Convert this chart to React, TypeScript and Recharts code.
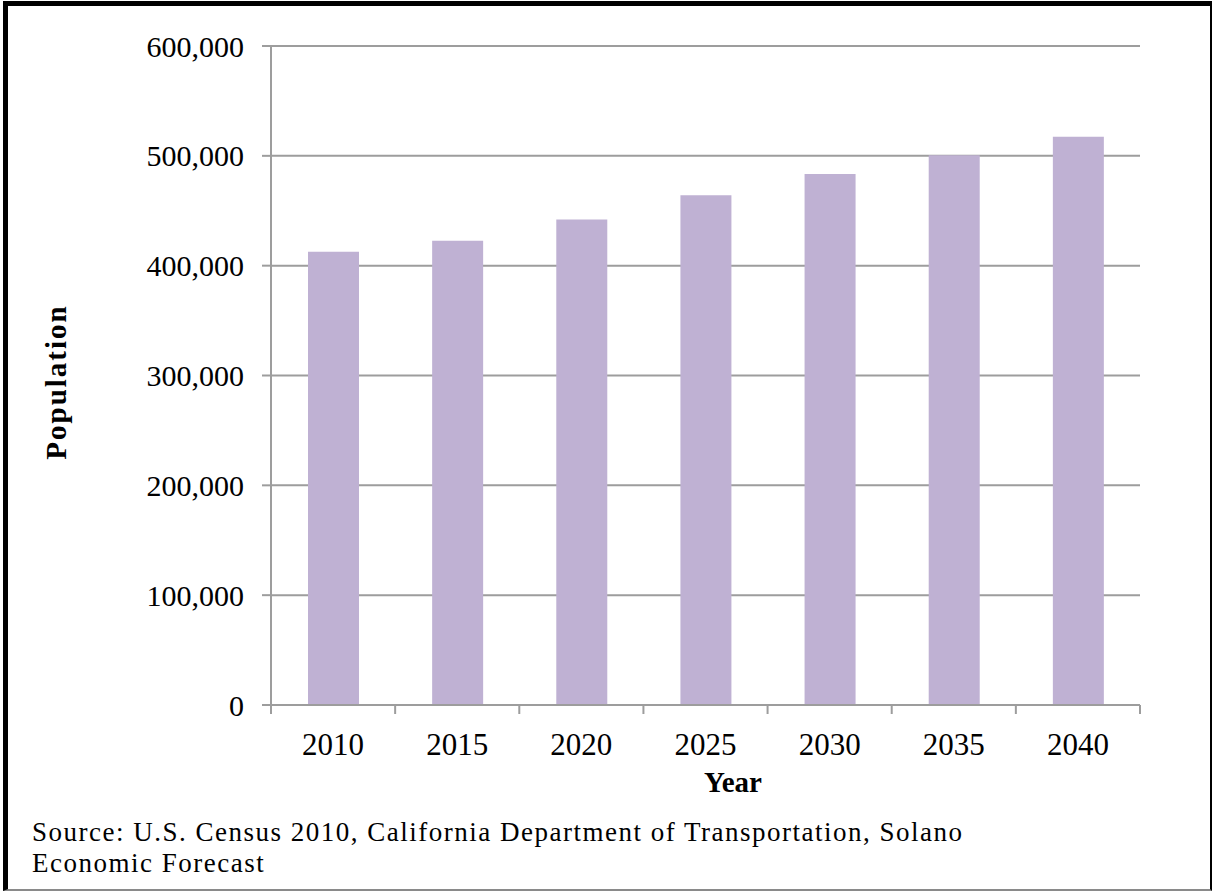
import React from 'react';
import {Bar, BarChart, CartesianGrid, XAxis, YAxis} from 'recharts';

// population by year (Solano County forecast)
const years = ['2010', '2015', '2020', '2025', '2030', '2035', '2040'];
const population = [412600, 422600, 442100, 464000, 483400, 500500, 517400];
const yTicks = [0, 100000, 200000, 300000, 400000, 500000, 600000];

const chartData = years.map((year, i) => ({ year, population: population[i] }));

const FONT = '"Liberation Serif", serif';
const GRAY = '#9d9d9d';
const X_TICK_MARGIN = 28;
const tickStyle = { fontFamily: FONT, fontSize: 30, fill: '#000' };

// excel style: tick marks sit on the category edges, not the centres
const YearTick = (props: any) => {
    const { x, y, payload, index, visibleTicksCount } = props;
    const half = payload.offset || 0;
    const axisY = y - X_TICK_MARGIN;
    return (
        <g>
            <line x1={x - half} x2={x - half} y1={axisY} y2={axisY + 9} stroke={GRAY} strokeWidth={2} />
            {index === visibleTicksCount - 1 && (
                <line x1={x + half} x2={x + half} y1={axisY} y2={axisY + 9} stroke={GRAY} strokeWidth={2} />
            )}
            <text x={x} y={y} dy="0.71em" textAnchor="middle" fontFamily={FONT} fontSize={31} fill="#000">
                {payload.value}
            </text>
        </g>
    );
};

export default function App() {
    return (
        <div style={{ position: 'absolute', left: 0, top: 0, width: 1213, height: 892, background: '#fff', fontFamily: FONT }}>
            <div style={{
                position: 'absolute', left: 3, top: 1, width: 1209, height: 890, boxSizing: 'border-box',
                borderTop: '5px solid #000', borderLeft: '5px solid #000',
                borderRight: '2px solid #000', borderBottom: '2px solid #8a8a8a',
            }} />
            <BarChart
                width={1213}
                height={892}
                data={chartData}
                margin={{ top: 46, right: 73, left: 0, bottom: 127 }}
                style={{ position: 'absolute', left: 0, top: 0 }}
            >
                <CartesianGrid vertical={false} stroke={GRAY} strokeWidth={2} />
                <XAxis
                    dataKey="year"
                    height={60}
                    tickSize={0}
                    tickMargin={X_TICK_MARGIN}
                    tickLine={false}
                    axisLine={{ stroke: GRAY, strokeWidth: 2 }}
                    tick={<YearTick />}
                    interval={0}
                />
                <YAxis
                    width={271}
                    domain={[0, 600000]}
                    ticks={yTicks}
                    tickSize={9}
                    tickMargin={18}
                    tickFormatter={(v: number) => v.toLocaleString('en-US')}
                    axisLine={{ stroke: GRAY, strokeWidth: 2 }}
                    tickLine={{ stroke: GRAY, strokeWidth: 2 }}
                    tick={tickStyle}
                />
                <Bar dataKey="population" fill="#bfb1d3" barSize={51} isAnimationActive={false} />
            </BarChart>
            <div style={{
                position: 'absolute', left: 56, top: 382, transform: 'translate(-50%, -50%) rotate(-90deg)',
                fontSize: 29, fontWeight: 'bold', whiteSpace: 'nowrap', lineHeight: 1, letterSpacing: 2,
            }}>Population</div>
            <div style={{
                position: 'absolute', left: 733, top: 768, transform: 'translateX(-50%)',
                fontSize: 29, fontWeight: 'bold', whiteSpace: 'nowrap', lineHeight: 1,
            }}>Year</div>
            <div style={{
                position: 'absolute', left: 32, top: 817, fontSize: 27, lineHeight: '31px',
                letterSpacing: 1.5, whiteSpace: 'nowrap',
            }}>
                Source: U.S. Census 2010, California Department of Transportation, Solano<br />
                Economic Forecast
            </div>
        </div>
    );
}
